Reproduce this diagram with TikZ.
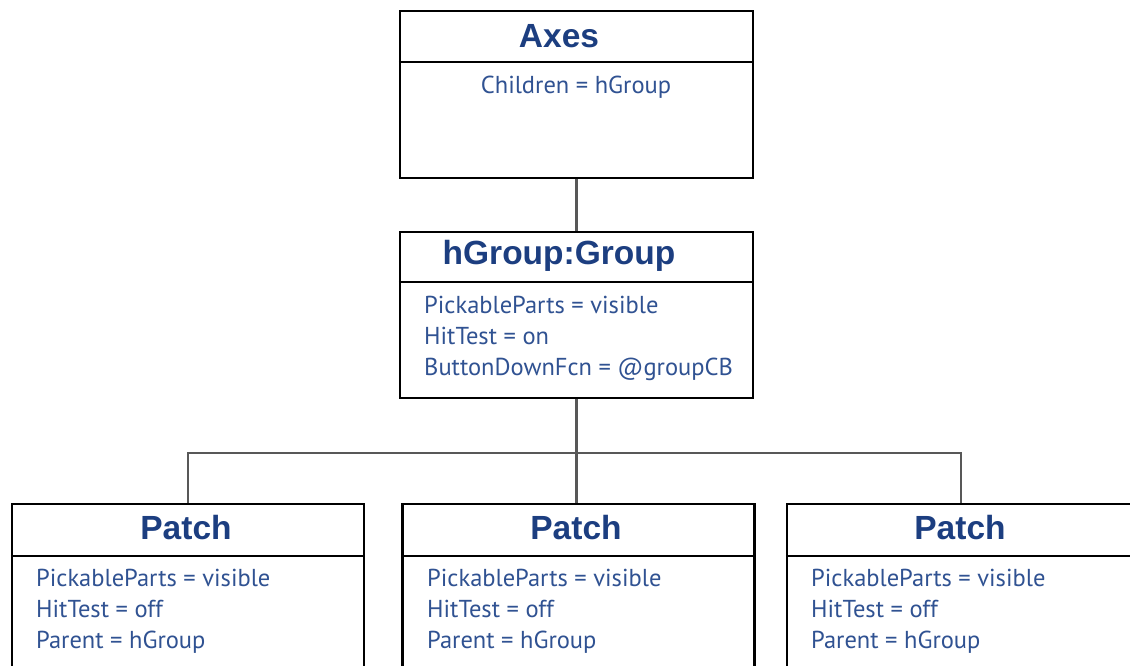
\documentclass[tikz,border=0pt]{standalone}
\usepackage{fontspec}
\setmainfont{PT Sans}
\newfontfamily\headfont{Liberation Sans}
\usetikzlibrary{positioning}
\definecolor{hgtitle}{RGB}{28,62,128}
\definecolor{hgtext}{RGB}{48,82,146}
\definecolor{hgline}{RGB}{88,88,88}

\begin{document}
\begin{tikzpicture}[
    x=1pt,y=-1pt,
    objbox/.style={draw=black,line width=2.1pt,fill=white,minimum width=353pt,inner sep=0pt},
    divline/.style={black,line width=1.4pt},
    headtxt/.style={text=hgtitle,font=\headfont\bfseries\fontsize{33.5}{36}\selectfont,inner sep=0pt},
    proptxt/.style={text=hgtext,font=\fontsize{24.5}{30.8}\selectfont,align=left,inner sep=0pt,anchor=north west},
    link/.style={hgline,line width=2.6pt}
  ]
    \useasboundingbox (0,0) rectangle (1130,666);
    \clip (0,0) rectangle (1130,666);
    % boxes
    \node[objbox,minimum height=167pt] (axes) at (576.5,94.5) {};
    \node[objbox,minimum height=166pt] (grp) at (576.5,315) {};
    \node[objbox,minimum width=352pt,minimum height=216pt] (patchA) at (188,612) {};
    \node[objbox,minimum width=352pt,minimum height=216pt] (patchB) at (578.5,612) {};
    \node[objbox,minimum width=352pt,minimum height=216pt] (patchC) at (963,612) {};
    % title bands
    \draw[divline] (axes.west |- 0,62) -- (axes.east |- 0,62);
    \draw[divline] (grp.west |- 0,282) -- (grp.east |- 0,282);
    \foreach \p in {patchA,patchB,patchC}
      \draw[divline] (\p.west |- 0,556) -- (\p.east |- 0,556);
    % titles
    \node[headtxt] (axesname) at (559,36) {Axes};
    \node[headtxt] (grpname) at (559,256) {hGroup:Group};
    \node[headtxt] (patchAname) at (186,528) {Patch};
    \node[headtxt] (patchBname) at (576,528) {Patch};
    \node[headtxt] (patchCname) at (960,528) {Patch};
    % properties
    \node[proptxt,anchor=north] (axesprops) at (576,76) {Children = hGroup};
    \node[proptxt] (grpprops) at (424,296) {PickableParts = visible\\HitTest = on\\ButtonDownFcn = @groupCB};
    \node[proptxt] (patchAprops) at (36,569) {PickableParts = visible\\HitTest = off\\Parent = hGroup};
    \node[proptxt] (patchBprops) at (427,569) {PickableParts = visible\\HitTest = off\\Parent = hGroup};
    \node[proptxt] (patchCprops) at (811,569) {PickableParts = visible\\HitTest = off\\Parent = hGroup};
    % connectors
    \coordinate (bus) at (grp.south |- 0,453);
    \draw[link] (axes.south) -- (grp.north);
    \draw[link] (grp.south) -- (bus);
    \draw[link] (bus) -| (patchA.north);
    \draw[link] (bus) -- (bus |- patchB.north);
    \draw[link] (bus) -| ([xshift=-2pt]patchC.north);
  \end{tikzpicture}
\end{document}
